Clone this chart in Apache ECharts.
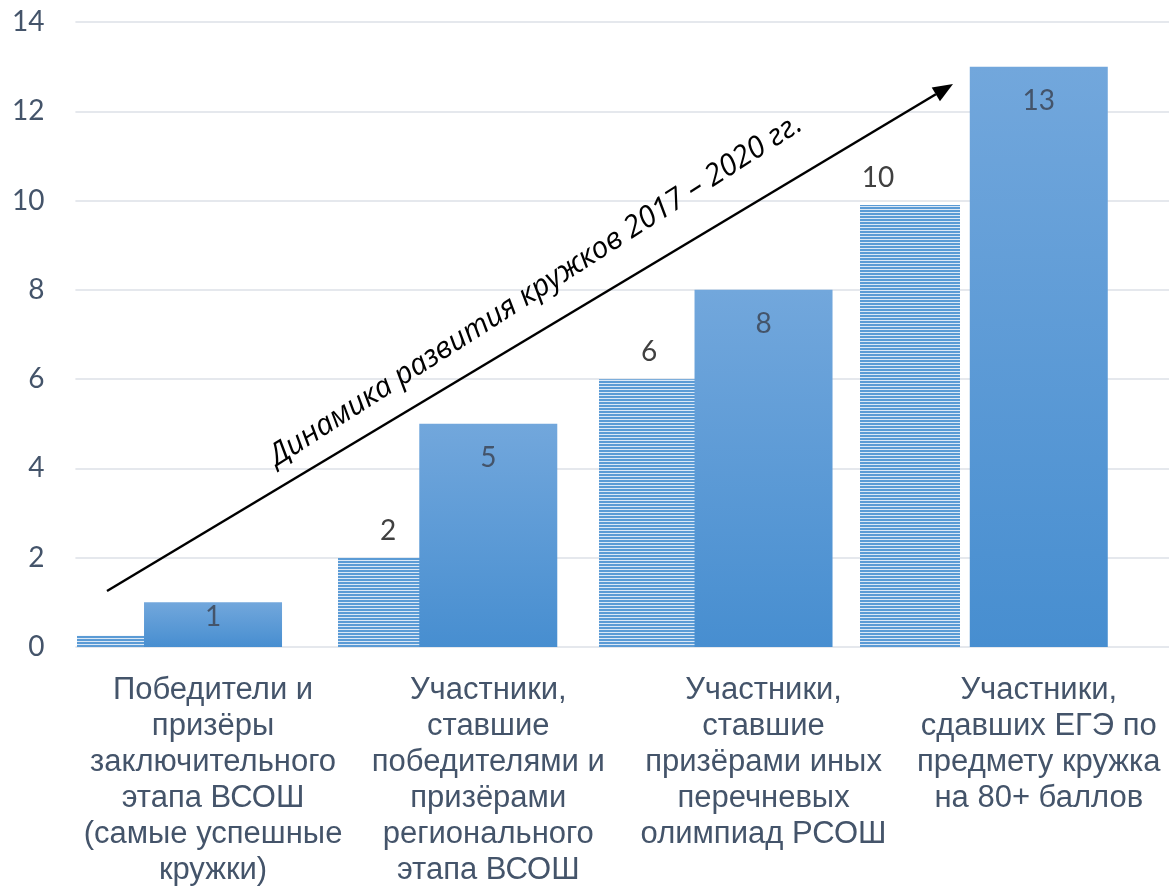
<!DOCTYPE html>
<html><head><meta charset="utf-8">
<script src="https://cdn.jsdelivr.net/npm/echarts@6/dist/echarts.min.js"></script>
<style>html,body{margin:0;padding:0;background:#fff}#c{width:1169px;height:888px}</style>
</head><body><div id="c"></div>
<script>
// ---- data ----
const categories = [
  'Победители и\nпризёры\nзаключительного\nэтапа ВСОШ\n(самые успешные\nкружки)',
  'Участники,\nставшие\nпобедителями и\nпризёрами\nрегионального\nэтапа ВСОШ',
  'Участники,\nставшие\nпризёрами иных\nперечневых\nолимпиад РСОШ',
  'Участники,\nсдавших ЕГЭ по\nпредмету кружка\nна 80+ баллов'
];
const values2017 = [0.25, 2, 6, 9.9];   // striped bars
const values2020 = [1, 5, 8, 13];       // solid bars
const yMin = 0, yMax = 14, yInterval = 2;
const arrowText = 'Динамика развития кружков 2017 – 2020 гг.';

// ---- styles ----
const pc = document.createElement('canvas'); pc.width = 4; pc.height = 3;
const pctx = pc.getContext('2d');
pctx.fillStyle = '#dbe8f6'; pctx.fillRect(0, 0, 4, 3);
pctx.fillStyle = '#5b9bd5'; pctx.fillRect(0, 0, 4, 2);

const solidGrad = new echarts.graphic.LinearGradient(0, 0, 0, 1, [
  {offset: 0, color: '#72a7dc'}, {offset: 1, color: '#478ed0'}
]);

const gridTop = 22, gridHeight = 625;

const stripedData = values2017.map((v, i) => {
  const item = {value: v};
  if (i === 0) item.label = {show: false};
  if (i === 3) item.label = {offset: [-32, 0]};
  return item;
});
const solidData = values2020.map((v, i) => {
  const item = {value: v};
  if (i === 0) item.label = {distance: 1};
  return item;
});

const chart = echarts.init(document.getElementById('c'), null, {renderer: 'canvas'});

// arrow annotation
const p0 = [107, 591], p1 = [953, 84];
const dx = p1[0] - p0[0], dy = p1[1] - p0[1];
const L = Math.sqrt(dx * dx + dy * dy);
const ux = dx / L, uy = dy / L, nx = -uy, ny = ux;
const hl = 20, hw = 8;
const bx = p1[0] - hl * ux, by = p1[1] - hl * uy;
const ang = Math.atan2(-dy, dx);

chart.setOption({
  animation: false,
  grid: [
    {left: 75.4, width: 1101, top: gridTop, height: gridHeight, outerBoundsMode: 'none'},
    {left: -3.5, width: 1044, top: gridTop, height: gridHeight, outerBoundsMode: 'none'}
  ],
  xAxis: [
    {type: 'category', gridIndex: 0, data: categories,
     axisLine: {show: false}, axisTick: {show: false},
     axisLabel: {interval: 0, margin: 25, color: '#44546a', fontSize: 31, lineHeight: 36,
                 fontFamily: '"Liberation Sans", Arial, sans-serif', align: 'center'}},
    {type: 'category', gridIndex: 1, data: categories, show: false}
  ],
  yAxis: [
    {type: 'value', gridIndex: 0, min: yMin, max: yMax, interval: yInterval,
     axisLine: {show: false}, axisTick: {show: false},
     splitLine: {lineStyle: {color: '#dde1e7', width: 1.5}},
     axisLabel: {margin: 31, color: '#44546a', fontSize: 28, fontFamily: 'Lato, sans-serif'}},
    {type: 'value', gridIndex: 1, min: yMin, max: yMax, interval: yInterval, show: false,
     splitLine: {show: false}}
  ],
  series: [
    {name: '2017', type: 'bar', xAxisIndex: 1, yAxisIndex: 1, data: stripedData,
     barWidth: 100, z: 2,
     itemStyle: {color: {image: pc, repeat: 'repeat'}},
     label: {show: true, position: 'top', distance: 13, color: '#404040', fontSize: 28,
             fontFamily: 'Lato, sans-serif', formatter: p => Math.round(p.value)}},
    {name: '2020', type: 'bar', xAxisIndex: 0, yAxisIndex: 0, data: solidData,
     barWidth: 138, z: 3,
     itemStyle: {color: solidGrad},
     label: {show: true, position: 'insideTop', distance: 20, color: '#44546a', fontSize: 28,
             fontFamily: 'Lato, sans-serif'}}
  ],
  graphic: [
    {type: 'line', z: 100, shape: {x1: p0[0], y1: p0[1], x2: bx, y2: by},
     style: {stroke: '#000', lineWidth: 2.5}},
    {type: 'polygon', z: 100,
     shape: {points: [[p1[0], p1[1]], [bx + hw * nx, by + hw * ny], [bx - hw * nx, by - hw * ny]]},
     style: {fill: '#000'}},
    {type: 'text', z: 100, x: 280, y: 472, rotation: ang + 0.03,
     style: {text: arrowText, fill: '#000', font: 'italic 30px "Open Sans", sans-serif',
             textAlign: 'left', textVerticalAlign: 'bottom'}}
  ]
});
</script></body></html>
